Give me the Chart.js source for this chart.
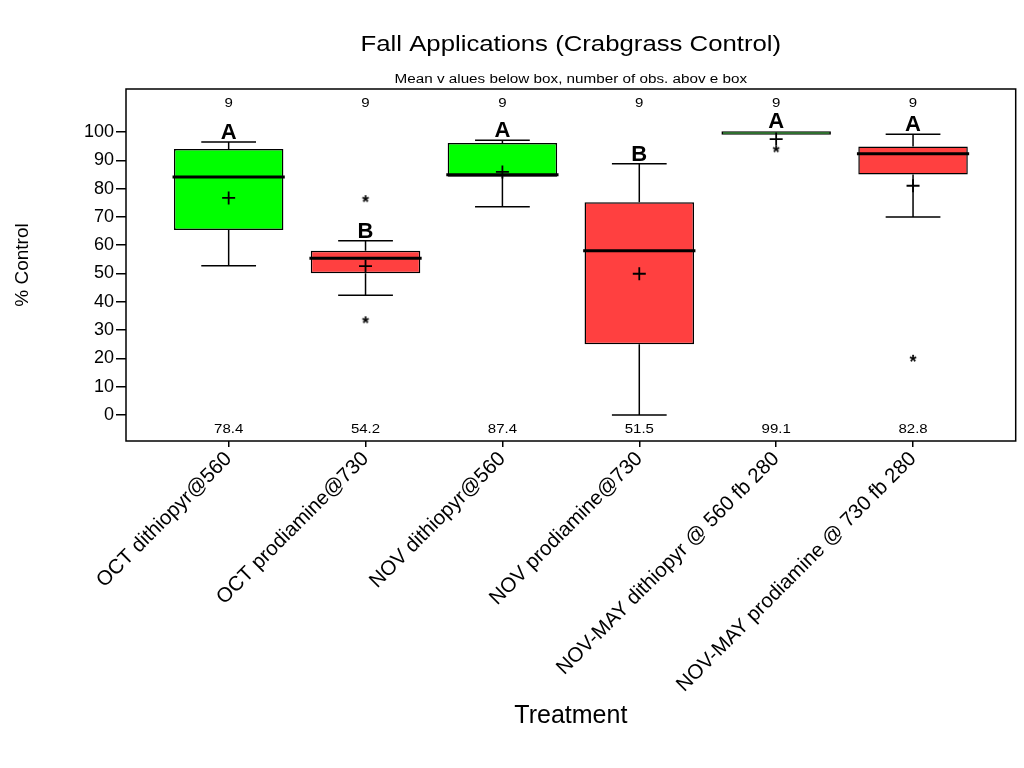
<!DOCTYPE html>
<html>
<head>
<meta charset="utf-8">
<script src="https://cdn.jsdelivr.net/npm/chart.js@4.4.1/dist/chart.umd.min.js"></script>
<style>
  html,body{margin:0;padding:0;background:#fff;}
</style>
</head>
<body>
<canvas id="myChart" width="1024" height="768"></canvas>
<script>
  // values
  let treatments=['OCT dithiopyr@560','OCT prodiamine@730','NOV dithiopyr@560','NOV prodiamine@730','NOV-MAY dithiopyr @ 560 fb 280','NOV-MAY prodiamine @ 730 fb 280'];
  let q1=[65.4,50.1,84.2,25.0,99.0,85.0];
  let q3=[94.0,58.0,96.1,75.2,100.3,94.9];
  let median=[84.1,55.4,84.9,58.0,null,92.3]; // no median line visible on the 5th box
  let whiskLow=[52.7,42.3,73.6,0,99.0,70.0];
  let whiskHigh=[96.5,61.6,97.1,88.8,100.3,99.2];
  let meanMark=[76.7,52.6,85.9,49.9,97.5,81.0];
  let outliers=[[],[76.6,33.8],[],[],[94.2],[20.2]];
  let nObs=['9','9','9','9','9','9'];
  let meanText=['78.4','54.2','87.4','51.5','99.1','82.8'];
  let letters=['A','B','A','B','A','A'];
  let yTicks=[0,10,20,30,40,50,60,70,80,90,100];

  let boxColors=['#00ff00','#ff4040','#00ff00','#ff4040','#00ff00','#ff4040'];
  const FONT='"Liberation Sans", Arial, sans-serif';

  // asterisk marker for outliers
  let star=document.createElement('canvas');
  star.width=14;star.height=14;
  let sc=star.getContext('2d');
  sc.font='bold 18px '+FONT;
  sc.textAlign='center';
  sc.fillStyle='#000';
  sc.fillText('*',7,7+10.3);

  let boxData=[],whiskPts=[],medPts=[],meanPts=[],outPts=[];
  for(let i=0;i<treatments.length;i++){
    boxData.push({x:i,y:[q1[i],q3[i]]});
    if(whiskHigh[i]>q3[i]){
      whiskPts.push({x:i,y:q3[i]},{x:i,y:whiskHigh[i]},{x:i,y:null});
      whiskPts.push({x:i-0.2,y:whiskHigh[i]},{x:i+0.2,y:whiskHigh[i]},{x:i,y:null});
    }
    if(whiskLow[i]<q1[i]){
      whiskPts.push({x:i,y:q1[i]},{x:i,y:whiskLow[i]},{x:i,y:null});
      whiskPts.push({x:i-0.2,y:whiskLow[i]},{x:i+0.2,y:whiskLow[i]},{x:i,y:null});
    }
    if(median[i]!==null){
      medPts.push({x:i-0.41,y:median[i]},{x:i+0.41,y:median[i]},{x:i,y:null});
    }
    meanPts.push({x:i,y:meanMark[i]});
    outliers[i].forEach(v=>outPts.push({x:i,y:v}));
  }

  // text drawn a bit wider than the font, like the original
  function wideText(ctx,txt,x,y,sx){
    ctx.save();
    ctx.translate(x,y);
    ctx.scale(sx,1);
    ctx.fillText(txt,0,0);
    ctx.restore();
  }

  const notes={
    id:'notes',
    afterDatasetsDraw(chart){
      const {ctx,chartArea:a,scales:{x,y}}=chart;
      const cx=(a.left+a.right)/2;
      ctx.save();
      ctx.fillStyle='#000';
      ctx.strokeStyle='#000';
      ctx.lineWidth=1.5;
      ctx.strokeRect(a.left,a.top,a.right-a.left,a.bottom-a.top);
      ctx.textAlign='center';
      ctx.textBaseline='middle';
      ctx.font='22px '+FONT;
      wideText(ctx,'Fall Applications (Crabgrass Control)',cx,45,1.17);
      ctx.font='12.5px '+FONT;
      wideText(ctx,'Mean v alues below box, number of obs. abov e box',cx,80,1.22);
      for(let i=0;i<treatments.length;i++){
        let px=x.getPixelForValue(i);
        ctx.font='12px '+FONT;
        ctx.textBaseline='middle';
        wideText(ctx,nObs[i],px,y.getPixelForValue(110),1.25);
        wideText(ctx,meanText[i],px,y.getPixelForValue(-5.3),1.25);
        ctx.font='bold 22px '+FONT;
        ctx.textBaseline='alphabetic';
        ctx.fillText(letters[i],px,y.getPixelForValue(Math.max(whiskHigh[i],q3[i]))-3);
      }
      ctx.restore();
    }
  };

  new Chart(document.getElementById('myChart'),{
    type:'bar',
    data:{
      datasets:[
        {type:'scatter',data:outPts,pointStyle:star,order:1},
        {type:'scatter',data:meanPts,pointStyle:'cross',pointRadius:6.5,borderColor:'#000',borderWidth:1.8,order:2},
        {type:'line',data:medPts,borderColor:'#000',borderWidth:3,pointRadius:0,spanGaps:false,order:3},
        {type:'line',data:whiskPts,borderColor:'#000',borderWidth:1.5,pointRadius:0,spanGaps:false,order:4},
        {type:'bar',data:boxData,backgroundColor:boxColors,borderColor:'#000',borderWidth:1.5,borderSkipped:false,
         categoryPercentage:1,barPercentage:0.8,order:5}
      ]
    },
    options:{
      responsive:false,
      animation:false,
      layout:{padding:{top:89,right:6,bottom:0,left:0}},
      plugins:{legend:{display:false},tooltip:{enabled:false}},
      scales:{
        x:{
          type:'linear',min:-0.75,max:5.75,offset:false,
          afterBuildTicks:s=>{s.ticks=treatments.map((t,i)=>({value:i}));},
          afterFit:s=>{s.height=327;},
          grid:{offset:false,drawOnChartArea:false,tickLength:6,color:'#000',lineWidth:1.5},
          border:{display:false},
          ticks:{autoSkip:false,minRotation:45,maxRotation:45,padding:0,color:'#000',
            font:{family:FONT,size:20.5},callback:v=>treatments[v]},
          title:{display:true,text:'Treatment',color:'#000',font:{family:FONT,size:25},padding:{top:0,bottom:37}}
        },
        y:{
          min:-9.2,max:115.2,
          afterBuildTicks:s=>{s.ticks=yTicks.map(v=>({value:v}));},
          afterFit:s=>{s.width=126;},
          grid:{drawOnChartArea:false,tickLength:10,color:'#000',lineWidth:1.5},
          border:{display:false},
          ticks:{padding:2,color:'#000',font:{family:FONT,size:18}},
          title:{display:true,text:'% Control',color:'#000',font:{family:FONT,size:19},padding:{top:11,bottom:0}}
        }
      }
    },
    plugins:[notes]
  });
</script>
</body>
</html>
